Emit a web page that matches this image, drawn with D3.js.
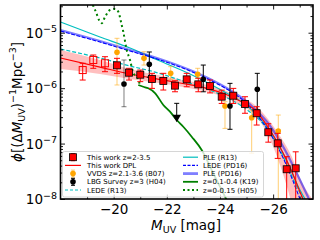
<!DOCTYPE html>
<html><head><meta charset="utf-8">
<script src="https://cdn.jsdelivr.net/npm/d3@7"></script>
<style>body{margin:0;background:#fff}svg{display:block;font-family:"DejaVu Sans",sans-serif}</style>
</head><body><svg id="c" width="320" height="240"></svg>
<script>
// ---------- data ----------
// This work z=2-3.5
const twM   = [-18.835,-19.234,-19.674,-20.126,-20.577,-21.002,-21.442,-21.868,-22.308,-22.748,-23.184,-23.624,-24.065,-24.501,-24.941,-25.381,-25.818,-26.172,-26.51,-26.849];
const twPhi = [2.12e-6,3.22e-6,2.81e-6,2.58e-6,1.90e-6,1.75e-6,1.46e-6,1.35e-6,1.11e-6,1.44e-6,1.17e-6,1.09e-6,7.02e-7,7.31e-7,5.18e-7,3.52e-7,1.60e-7,1.01e-7,3.44e-8,3.58e-8];
const twHi  = [2.81e-6,3.96e-6,3.69e-6,3.45e-6,2.28e-6,2.12e-6,1.85e-6,1.85e-6,1.36e-6,1.85e-6,1.51e-6,1.40e-6,9.2e-7,9.9e-7,7.0e-7,4.62e-7,2.28e-7,1.53e-7,5.8e-8,7.1e-8];
const twLo  = [1.40e-6,2.28e-6,1.98e-6,1.85e-6,1.40e-6,1.31e-6,9.9e-7,9.25e-7,8.6e-7,1.06e-6,8.6e-7,8.2e-7,5.3e-7,5.3e-7,3.52e-7,2.16e-7,1.06e-7,5.4e-8,5e-9,5e-9];
const twOpen = [true,true,true,false,false,false,false,false,false,false,false,false,false,false,false,false,false,false,false,false];
// VVDS z=2.1-3.6 (B07)
const vvM   = [-20.126,-21.141,-22.146,-23.162,-24.189,-25.193,-26.194];
const vvPhi = [4.43e-6,3.45e-6,1.85e-6,1.78e-6,4.77e-7,2.93e-7,1.69e-7];
const vvHi  = [7.93e-6,4.54e-6,2.44e-6,2.28e-6,5.69e-7,4.04e-7,3.27e-7];
const vvLo  = [1.14e-6,2.61e-6,1.44e-6,1.51e-6,1.88e-7,6.7e-8,5e-9];
// LBG Survey z=3 (H04)
const lbgM   = [-20.389,-21.341,-22.372,-23.372,-24.377,-25.404];
const lbgPhi = [1.19e-6,2.69e-6,2.98e-7,1.45e-6,4.77e-7,9.53e-7];
const lbgHi  = [3.22e-6,4.49e-6,5.32e-7,2.61e-6,1.22e-6,1.85e-6];
const lbgLo  = [4.62e-7,1.58e-6,2.98e-7,8.6e-7,1.81e-7,4.04e-7];
const lbgUpperLimit = [false,false,true,false,false,false];
// This work DPL + band
const dplM   = [-18,-19.486,-20.615,-21.555,-22.496,-23.436,-24.189,-24.753,-25.317,-25.806,-26.258,-26.709,-27.010,-27.123];
const dplPhi = [3.50e-6,2.40e-6,1.80e-6,1.49e-6,1.24e-6,1.01e-6,7.83e-7,5.86e-7,4.04e-7,1.99e-7,8.67e-8,3.07e-8,1.34e-8,1.0e-8];
const bandM  = [-18,-19.486,-20.615,-21.555,-22.496,-23.436,-24.189,-24.753,-25.317,-25.806,-26.258,-26.709,-27.010,-27.5];
const bandHi = [4.9e-6,3.22e-6,2.21e-6,1.76e-6,1.43e-6,1.16e-6,9.05e-7,6.92e-7,4.97e-7,2.77e-7,1.37e-7,5.73e-8,2.39e-8,9.6e-9];
const bandLo = [2.21e-6,1.80e-6,1.46e-6,1.26e-6,1.07e-6,8.69e-7,6.78e-7,4.97e-7,3.27e-7,1.43e-7,4.10e-8,7.8e-9,1.8e-9,1e-9];
// PLE (R13)
const pleR13M   = [-18,-19.486,-20.615,-21.743,-22.872,-23.624,-24.377,-24.941,-25.393,-25.806,-26.446,-27.010,-27.198];
const pleR13Phi = [1.56e-5,8.37e-6,5.30e-6,3.09e-6,1.80e-6,1.19e-6,7.52e-7,5.18e-7,3.27e-7,1.91e-7,5.73e-8,1.45e-8,1e-8];
// LEDE (R13)
const ledeR13M   = [-18,-19.486,-20.615,-21.555,-22.496,-23.624,-24.565,-25.129,-25.694,-26.258,-26.822,-27.123];
const ledeR13Phi = [5.08e-6,3.50e-6,2.51e-6,1.95e-6,1.40e-6,9.25e-7,5.62e-7,3.72e-7,2.07e-7,7.66e-8,1.95e-8,1e-8];
// PLE (PD16)
const plePD16M   = [-18,-19.486,-20.615,-21.743,-22.872,-23.624,-24.377,-24.941,-25.393,-25.806,-26.446,-27.010,-27.349];
const plePD16Phi = [1.12e-5,7.08e-6,4.88e-6,3.36e-6,2.12e-6,1.46e-6,9.25e-7,6.11e-7,3.87e-7,2.35e-7,7.66e-8,2.20e-8,1e-8];
// LEDE (PD16)
const ledePD16M   = [-18,-19.486,-20.615,-21.743,-22.872,-23.624,-24.377,-24.941,-25.393,-25.806,-26.446,-27.010];
const ledePD16Phi = [1.07e-5,6.79e-6,4.68e-6,3.22e-6,2.04e-6,1.40e-6,8.87e-7,5.62e-7,3.27e-7,1.76e-7,4.66e-8,1e-8];
// z=0.1-0.4 (K19)
const k19M   = [-20.927,-21.115,-21.303,-21.555,-21.868,-22.120,-22.372,-22.620,-22.936,-23.312,-23.749,-24.253];
const k19Phi = [1.14e-6,1.06e-6,9.93e-7,8.17e-7,4.97e-7,3.76e-7,2.66e-7,2.01e-7,1.33e-7,7.66e-8,2.91e-8,9.6e-9];
// z=0-0.15 (H05)
const h05M   = [-19.147,-19.223,-19.336,-19.448,-19.550,-19.674,-19.862,-20.050,-20.175,-20.302,-20.363,-20.491,-20.615,-20.728,-20.897,-21.010];
const h05Phi = [4.8e-5,3.16e-5,2.37e-5,1.69e-5,1.48e-5,1.92e-5,2.57e-5,2.68e-5,2.39e-5,1.38e-5,1.04e-5,4.88e-6,3.22e-6,1.95e-6,1.52e-6,1.09e-6];
// ticks / labels
const xMajor = [-20,-22,-24,-26];
const xMinor = [-19,-21,-23,-25,-27];
const yMajor = [1e-8,1e-7,1e-6,1e-5];
const legendCol1 = ["This work z=2-3.5","This work DPL","VVDS z=2.1-3.6 (B07)","LBG Survey z=3 (H04)","LEDE (R13)"];
const legendCol2 = ["PLE (R13)","LEDE (PD16)","PLE (PD16)","z=0.1-0.4 (K19)","z=0-0.15 (H05)"];

// ---------- layout ----------
const L=60.5,R=313,T=5,B=199;
const x=d3.scaleLinear().domain([-18,-27.5]).range([L,R]);
const y=d3.scaleLog().domain([1e-8,Math.pow(10,-4.5)]).range([B,T]);
const svg=d3.select("#c");
svg.append("rect").attr("width",320).attr("height",240).attr("fill","#fff");
svg.append("defs").append("clipPath").attr("id","clip").append("rect")
  .attr("x",L).attr("y",T).attr("width",R-L).attr("height",B-T);
const plot=svg.append("g").attr("clip-path","url(#clip)");

const CY="#00bfbf";
function path(Ms,Ps){return d3.line().x(i=>x(Ms[i])).y(i=>y(Ps[i])).curve(d3.curveMonotoneX)(d3.range(Ms.length));}

// band
plot.append("path").attr("d",d3.area().x(i=>x(bandM[i])).y0(i=>y(bandLo[i])).y1(i=>y(bandHi[i])).curve(d3.curveMonotoneX)(d3.range(bandM.length)))
  .attr("fill","red").attr("fill-opacity",0.25);
// model lines
plot.append("path").attr("d",path(ledeR13M,ledeR13Phi)).attr("fill","none").attr("stroke",CY).attr("stroke-width",1.2).attr("stroke-dasharray","4,2");
plot.append("path").attr("d",path(pleR13M,pleR13Phi)).attr("fill","none").attr("stroke",CY).attr("stroke-width",1.2);
plot.append("path").attr("d",path(plePD16M,plePD16Phi)).attr("fill","none").attr("stroke","blue").attr("stroke-opacity",0.5).attr("stroke-width",2.2);
plot.append("path").attr("d",path(ledePD16M,ledePD16Phi)).attr("fill","none").attr("stroke","blue").attr("stroke-width",1.1).attr("stroke-dasharray","4,1.5");
plot.append("path").attr("d",path(dplM,dplPhi)).attr("fill","none").attr("stroke","red").attr("stroke-width",1.2);
plot.append("path").attr("d",path(k19M,k19Phi)).attr("fill","none").attr("stroke","green").attr("stroke-width",1.8);
plot.append("path").attr("d",path(h05M,h05Phi)).attr("fill","none").attr("stroke","green").attr("stroke-width",2).attr("stroke-dasharray","2,3");

function errbar(g,M,hi,lo,color,cap,op,capLo){
  const xx=x(M);
  g.append("line").attr("x1",xx).attr("x2",xx).attr("y1",y(hi)).attr("y2",y(lo)).attr("stroke",color).attr("stroke-width",1).attr("stroke-opacity",op);
  g.append("line").attr("x1",xx-cap).attr("x2",xx+cap).attr("y1",y(hi)).attr("y2",y(hi)).attr("stroke",color).attr("stroke-width",1).attr("stroke-opacity",op);
  if(capLo!==false) g.append("line").attr("x1",xx-cap).attr("x2",xx+cap).attr("y1",y(lo)).attr("y2",y(lo)).attr("stroke",color).attr("stroke-width",1).attr("stroke-opacity",op);
}
// VVDS
const gv=plot.append("g");
vvM.forEach((m,i)=>errbar(gv,m,vvHi[i],vvLo[i],"orange",2.5,0.55));
gv.selectAll("circle").data(vvM).join("circle").attr("cx",d=>x(d)).attr("cy",(d,i)=>y(vvPhi[i])).attr("r",2.8).attr("fill","orange");
// LBG
const gl=plot.append("g");
lbgM.forEach((m,i)=>errbar(gl,m,lbgHi[i],lbgLo[i],"black",2.5,i===0?0.5:1,!lbgUpperLimit[i]));
lbgM.forEach((m,i)=>{
  if(lbgUpperLimit[i]) gl.append("path").attr("d",d3.symbol(d3.symbolTriangle,32)()).attr("transform",`translate(${x(m)},${y(lbgPhi[i])}) rotate(180)`).attr("fill","black");
  else gl.append("circle").attr("cx",x(m)).attr("cy",y(lbgPhi[i])).attr("r",2.8).attr("fill","black");
});
// This work
const gt=plot.append("g");
twM.forEach((m,i)=>errbar(gt,m,twHi[i],twLo[i],"red",3,1));
gt.selectAll("rect").data(twM).join("rect").attr("x",d=>x(d)-3.5).attr("y",(d,i)=>y(twPhi[i])-3.5).attr("width",7).attr("height",7)
  .attr("fill",(d,i)=>twOpen[i]?"none":"red").attr("stroke",(d,i)=>twOpen[i]?"red":"black").attr("stroke-width",(d,i)=>twOpen[i]?1:0.8);

// ---------- axes ----------
function clean(g){g.select(".domain").remove();g.selectAll("line").attr("stroke-width",0.9);}
svg.append("g").attr("transform",`translate(0,${B})`).call(d3.axisBottom(x).tickValues(xMajor).tickSizeInner(-4.5).tickSizeOuter(0).tickPadding(5).tickFormat(d=>"\u2212"+Math.abs(d)))
  .call(clean).call(g=>g.selectAll("text").attr("font-size",13.5).attr("font-family","DejaVu Sans").attr("fill","#000"));
svg.append("g").attr("transform",`translate(0,${B})`).call(d3.axisBottom(x).tickValues(xMinor).tickSizeInner(-2.5).tickSizeOuter(0).tickFormat("")).call(clean);
svg.append("g").attr("transform",`translate(0,${T})`).call(d3.axisTop(x).tickValues(xMajor).tickSizeInner(-4.5).tickSizeOuter(0).tickFormat("")).call(clean);
svg.append("g").attr("transform",`translate(0,${T})`).call(d3.axisTop(x).tickValues(xMinor).tickSizeInner(-2.5).tickSizeOuter(0).tickFormat("")).call(clean);
const yMinor=[];
[-8,-7,-6,-5].forEach(n=>{for(let k=2;k<=9;k++){const v=k*Math.pow(10,n);if(v<y.domain()[1])yMinor.push(v);}});
svg.append("g").attr("transform",`translate(${L},0)`).call(d3.axisLeft(y).tickValues(yMajor).tickSizeInner(-4.5).tickSizeOuter(0).tickFormat("")).call(clean);
svg.append("g").attr("transform",`translate(${L},0)`).call(d3.axisLeft(y).tickValues(yMinor).tickSizeInner(-2.5).tickSizeOuter(0).tickFormat("")).call(clean);
svg.append("g").attr("transform",`translate(${R},0)`).call(d3.axisRight(y).tickValues(yMajor).tickSizeInner(-4.5).tickSizeOuter(0).tickFormat("")).call(clean);
svg.append("g").attr("transform",`translate(${R},0)`).call(d3.axisRight(y).tickValues(yMinor).tickSizeInner(-2.5).tickSizeOuter(0).tickFormat("")).call(clean);
// y tick labels
yMajor.forEach(v=>{
  const t=svg.append("text").attr("x",L-3.5).attr("y",y(v)+5).attr("text-anchor","end").attr("font-size",13.5);
  t.append("tspan").text("10");
  t.append("tspan").attr("font-size",9.5).attr("dy",-5.5).text("\u2212"+Math.round(-Math.log10(v)));
});
// spines
svg.append("rect").attr("x",L).attr("y",T).attr("width",R-L).attr("height",B-T).attr("fill","none").attr("stroke","black").attr("stroke-width",1.6);

// axis labels
const xl=svg.append("text").attr("x",186).attr("y",230).attr("text-anchor","middle").attr("font-size",13.5);
xl.append("tspan").attr("font-style","italic").text("M");
xl.append("tspan").attr("font-size",9.5).attr("dy",3).text("UV");
xl.append("tspan").attr("dy",-3).text(" [mag]");
const yl=svg.append("text").attr("transform","translate(21.5,102) rotate(-90)").attr("text-anchor","middle").attr("font-size",13.5);
yl.append("tspan").attr("font-style","italic").text("\u03d5");
yl.append("tspan").text("[(\u0394");
yl.append("tspan").attr("font-style","italic").text("M");
yl.append("tspan").attr("font-size",9.5).attr("dy",3).text("UV");
yl.append("tspan").attr("dy",-3).text(")");
yl.append("tspan").attr("font-size",9.5).attr("dy",-5.5).text("\u22121");
yl.append("tspan").attr("dy",5.5).text("Mpc");
yl.append("tspan").attr("font-size",9.5).attr("dy",-5.5).text("\u22123");
yl.append("tspan").attr("dy",5.5).text("]");

// ---------- legend ----------
const lg=svg.append("g");
lg.append("rect").attr("x",62.5).attr("y",151.5).attr("width",201).attr("height",45.5).attr("rx",2)
  .attr("fill","#fff").attr("fill-opacity",0.8).attr("stroke","#cccccc").attr("stroke-width",0.8);
const rowY=i=>157.2+i*8.2;
const FS=7;
const c1=73, c2a=183, c2b=198;
legendCol1.forEach((s,i)=>lg.append("text").attr("x",87).attr("y",rowY(i)+2.5).attr("font-size",FS).text(s));
legendCol2.forEach((s,i)=>lg.append("text").attr("x",203).attr("y",rowY(i)+2.5).attr("font-size",FS).text(s));
// handles col1
function legErr(cy,color,op){
  lg.append("line").attr("x1",c1).attr("x2",c1).attr("y1",cy-3.5).attr("y2",cy+3.5).attr("stroke",color).attr("stroke-opacity",op);
  [cy-3.5,cy+3.5].forEach(yy=>lg.append("line").attr("x1",c1-2).attr("x2",c1+2).attr("y1",yy).attr("y2",yy).attr("stroke",color).attr("stroke-opacity",op));
}
legErr(rowY(0),"red",1);
lg.append("rect").attr("x",c1-3.5).attr("y",rowY(0)-3.5).attr("width",7).attr("height",7).attr("fill","red").attr("stroke","black").attr("stroke-width",0.8);
lg.append("line").attr("x1",65).attr("x2",81).attr("y1",rowY(1)).attr("y2",rowY(1)).attr("stroke","red").attr("stroke-width",1.2);
legErr(rowY(2),"orange",0.55);
lg.append("circle").attr("cx",c1).attr("cy",rowY(2)).attr("r",2.8).attr("fill","orange");
legErr(rowY(3),"black",1);
lg.append("circle").attr("cx",c1).attr("cy",rowY(3)).attr("r",2.8).attr("fill","black");
lg.append("line").attr("x1",65).attr("x2",81).attr("y1",rowY(4)).attr("y2",rowY(4)).attr("stroke",CY).attr("stroke-width",1.2).attr("stroke-dasharray","3,2");
// handles col2
lg.append("line").attr("x1",c2a).attr("x2",c2b).attr("y1",rowY(0)).attr("y2",rowY(0)).attr("stroke",CY).attr("stroke-width",1.2);
lg.append("line").attr("x1",c2a).attr("x2",c2b).attr("y1",rowY(1)).attr("y2",rowY(1)).attr("stroke","blue").attr("stroke-width",1.1).attr("stroke-dasharray","3,1.5");
lg.append("line").attr("x1",c2a).attr("x2",c2b).attr("y1",rowY(2)).attr("y2",rowY(2)).attr("stroke","blue").attr("stroke-opacity",0.5).attr("stroke-width",2.8);
lg.append("line").attr("x1",c2a).attr("x2",c2b).attr("y1",rowY(3)).attr("y2",rowY(3)).attr("stroke","green").attr("stroke-width",1.8);
lg.append("line").attr("x1",c2a).attr("x2",c2b).attr("y1",rowY(4)).attr("y2",rowY(4)).attr("stroke","green").attr("stroke-width",2).attr("stroke-dasharray","2,2.5");
</script></body></html>
